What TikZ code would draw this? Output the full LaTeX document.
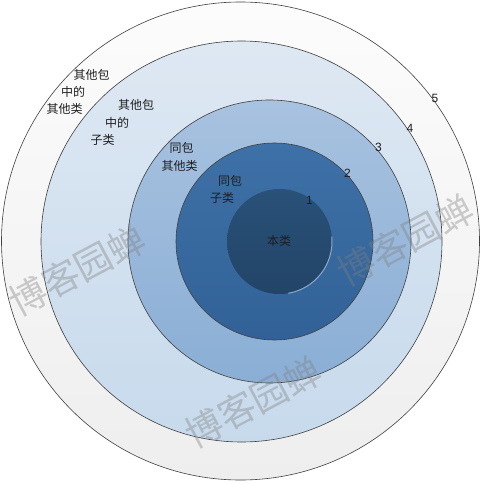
\documentclass[tikz,border=0pt]{standalone}
\usepackage{fontspec}
\newfontfamily\cjk{Noto Sans CJK SC}
\setmainfont{Liberation Sans}
\definecolor{edge}{HTML}{404040}
\definecolor{c5t}{HTML}{FCFCFC}
\definecolor{c5b}{HTML}{EEEEEE}
\definecolor{c4t}{HTML}{DEE8F3}
\definecolor{c4b}{HTML}{C7DAEC}
\definecolor{c3t}{HTML}{A8C2E0}
\definecolor{c3b}{HTML}{8AAED5}
\definecolor{c2t}{HTML}{3E71A7}
\definecolor{c2b}{HTML}{316197}
\definecolor{c1t}{HTML}{2A5179}
\definecolor{c1b}{HTML}{224467}
\definecolor{txt}{HTML}{1E1E1E}
\tikzset{
  ring/.style={circle, draw=edge, line width=0.6pt, inner sep=0pt},
  lab/.style={font=\cjk\fontsize{12}{14}\selectfont, text=txt, inner sep=0pt},
  num/.style={font=\fontsize{12}{14}\selectfont, text=txt, inner sep=0pt},
  wm/.style={font=\cjk\fontsize{37}{40}\selectfont, text=gray, opacity=0.38, inner sep=0pt, rotate=28}
}
\begin{document}
\begin{tikzpicture}[x=1pt,y=-1pt]
\useasboundingbox (0,0) rectangle (484,484);
\fill[white] (0,0) rectangle (484,484);
\node[ring, minimum size=478pt, top color=c5t, bottom color=c5b] (c5) at (240.5,241) {};
\node[ring, minimum size=401pt, top color=c4t, bottom color=c4b] (c4) at (241.5,241.5) {};
\node[ring, minimum size=283pt, top color=c3t, bottom color=c3b] (c3) at (269.5,241.5) {};
\node[ring, minimum size=197pt, top color=c2t, bottom color=c2b] (c2) at (274.5,241.5) {};
\node[circle, inner sep=0pt, minimum size=105pt, top color=c1t, bottom color=c1b] (c1) at (279.5,241.5) {};
\draw[white!40!c2t, line width=1pt, line cap=round] ([shift={(-80:52.5pt)}]c1.center) arc[start angle=-80, end angle=5, radius=52.5pt];

% labels
\node[lab] (a1) at (91.5,75) {其他包};
\node[lab] (a2) at (73,92) {中的};
\node[lab] (a3) at (64.5,109) {其他类};
\node[lab] (b1) at (136,105) {其他包};
\node[lab] (b2) at (117,123) {中的};
\node[lab] (b3) at (102.5,140) {子类};
\node[lab] (d1) at (181.5,148) {同包};
\node[lab] (d2) at (179.5,166) {其他类};
\node[lab] (e1) at (230,181) {同包};
\node[lab] (e2) at (222,198) {子类};
\node[lab] (f1) at (279,241) {本类};

\node[num] (n1) at (309.5,200) {1};
\node[num] (n2) at (347.5,173.5) {2};
\node[num] (n3) at (378.5,147) {3};
\node[num] (n4) at (410,128) {4};
\node[num] (n5) at (435,98) {5};

% watermarks
\node[wm] (w1) at (77,270) {博客园蝉};
\node[wm] (w2) at (405,240) {博客园蝉};
\node[wm] (w3) at (253,402) {博客园蝉};
\end{tikzpicture}
\end{document}
